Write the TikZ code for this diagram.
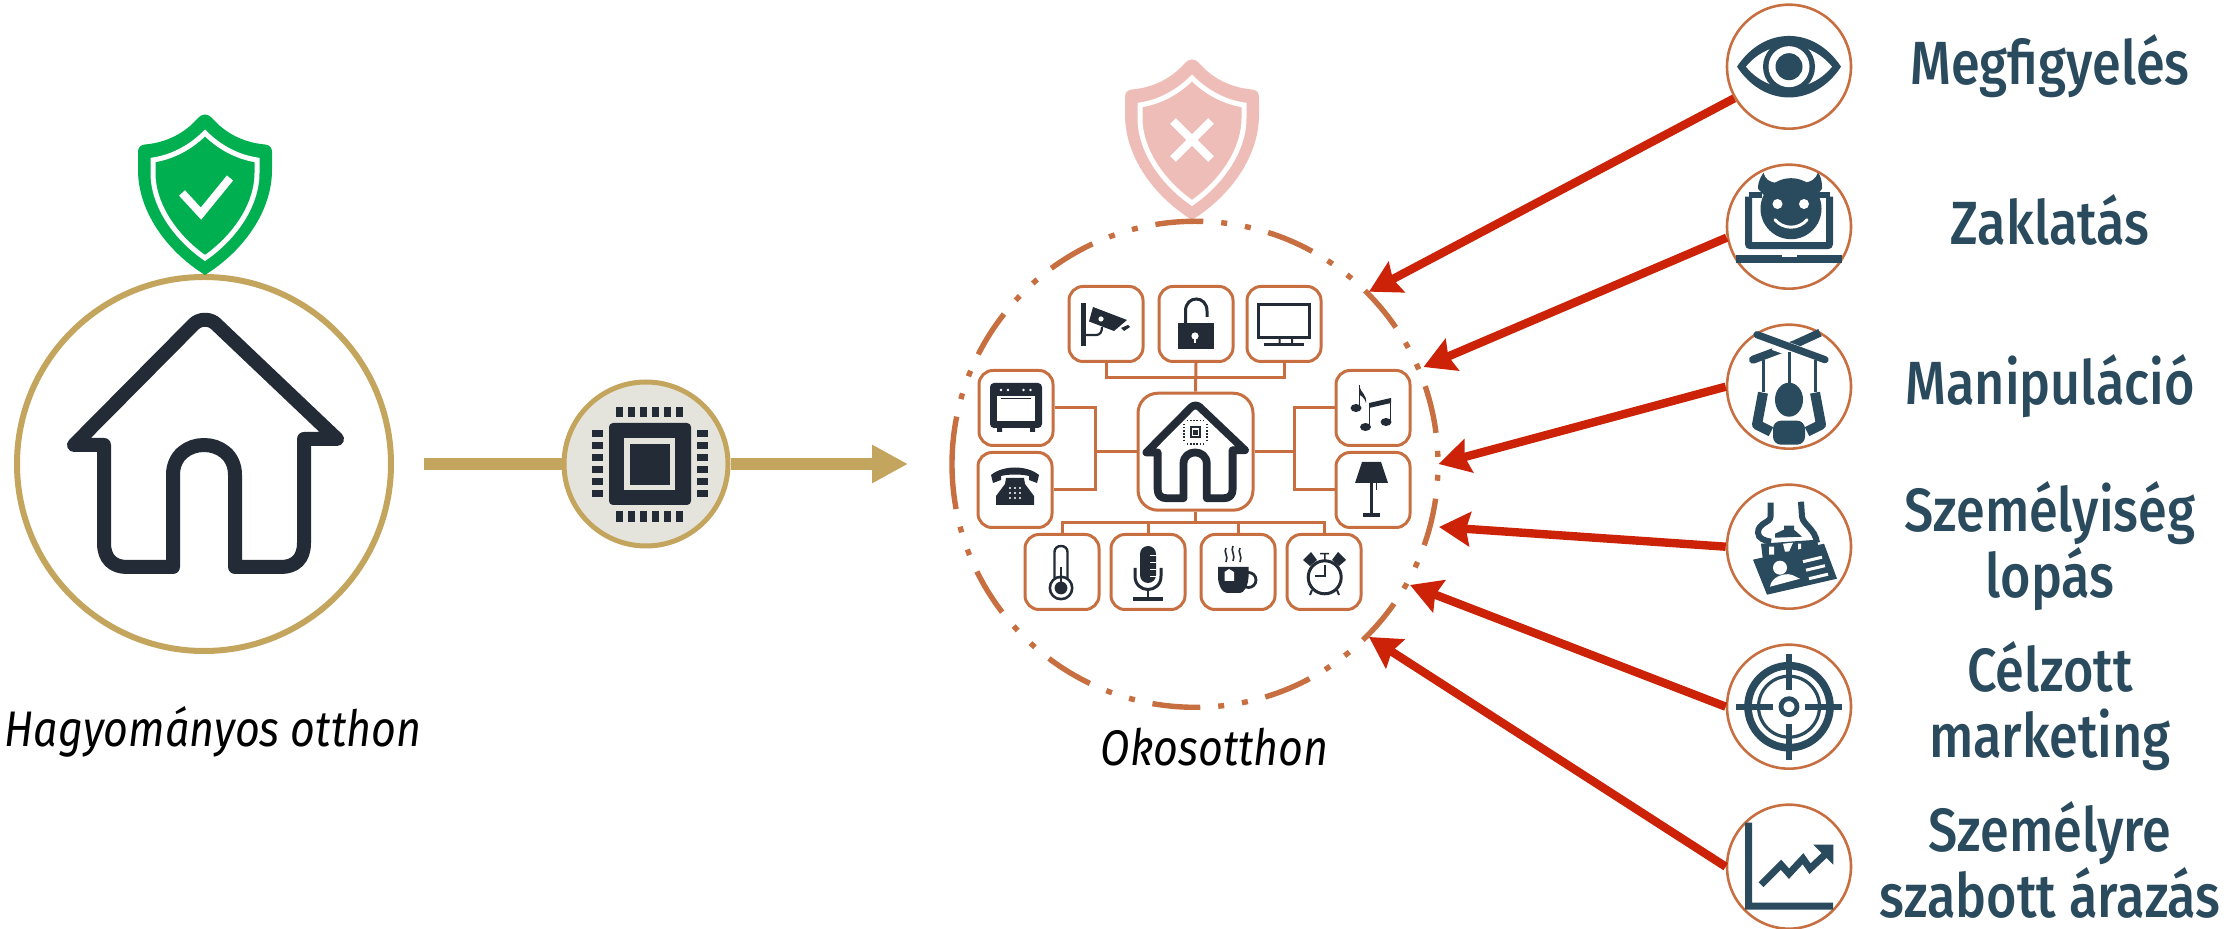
\documentclass[tikz,border=0pt]{standalone}
\usepackage{fontspec}
\usetikzlibrary{arrows.meta}
\setmainfont{Fira Sans}
\newfontfamily\labfont[FakeStretch=0.855]{Fira Sans Medium}
\newfontfamily\capfont[FakeStretch=0.86,ItalicFeatures={FakeStretch=0.86}]{Fira Sans}
\definecolor{gold}{HTML}{C4A55D}
\definecolor{rust}{HTML}{C86F41}
\definecolor{ink}{HTML}{232B37}
\definecolor{teal}{HTML}{2A4A5E}
\definecolor{alarm}{HTML}{CC2208}
\definecolor{okgreen}{HTML}{00B050}
\definecolor{paleRed}{HTML}{EFBDB8}
\definecolor{chipbg}{HTML}{E4E4DC}
\tikzset{
  tile/.style={draw=rust,fill=white,line width=1.5pt,rounded corners=7pt,minimum width=37pt,minimum height=37.5pt,inner sep=0pt},
  hometile/.style={tile,rounded corners=10pt,minimum width=57.5pt,minimum height=58.5pt},
  threat/.style={circle,draw=rust,fill=white,line width=1.3pt,minimum size=62pt,inner sep=0pt},
  conn/.style={draw=rust,line width=1.5pt},
  hit/.style={draw=alarm,line width=4.2pt,-{Stealth[length=15.5pt,width=17pt,inset=2pt]}},
  goldline/.style={draw=gold,line width=6pt},
  lab/.style={font=\labfont\fontsize{30.5}{33}\selectfont,text=teal,align=center,inner sep=0pt},
  capt/.style={font=\capfont\itshape\fontsize{25}{28}\selectfont,text=black,inner sep=0pt,anchor=base}
}
\newcommand{\shieldicon}[1]{%
  \fill[#1] (0,-80.5) .. controls (-3,-80.5) and (-5,-79) .. (-7,-77)
    .. controls (-20,-62) and (-38,-52.5) .. (-60,-50.5)
    .. controls (-65,-50) and (-67,-47) .. (-67,-43) -- (-67,-25)
    .. controls (-67,15) and (-40,55) .. (0,80)
    .. controls (40,55) and (67,15) .. (67,-25) -- (67,-43)
    .. controls (67,-47) and (65,-50) .. (60,-50.5)
    .. controls (38,-52.5) and (20,-62) .. (7,-77)
    .. controls (5,-79) and (3,-80.5) .. (0,-80.5) -- cycle;
  \draw[white,line width=2.5pt] (0,-62) .. controls (-14,-48) and (-32,-38) .. (-52,-35) -- (-52,-22)
    .. controls (-52,10) and (-30,42) .. (0,63)
    .. controls (30,42) and (52,10) .. (52,-22) -- (52,-35)
    .. controls (32,-38) and (14,-48) .. (0,-62) -- cycle;
}
\newcommand{\houseicon}[1]{%
  \draw[ink,line width=#1,line join=round,line cap=round]
    (-131,2) -- (-101,2) -- (-101,100) .. controls (-101,116) and (-92,124) .. (-78,124) -- (-32,124)
    -- (-32,32) .. controls (-32,-8) and (30,-8) .. (30,32) -- (30,124)
    -- (76,124) .. controls (90,124) and (99,116) .. (99,100) -- (99,-4) -- (132,-4)
    -- (12,-118) .. controls (6,-125) and (-6,-125) .. (-12,-118) -- cycle;
}
\begin{document}
\begin{tikzpicture}[x=0.5pt,y=-0.5pt]
\useasboundingbox (0,0) rectangle (2239,929);
% ---------- traditional home
\node[circle,draw=gold,line width=3pt,minimum size=187pt,inner sep=0pt] (trad) at (204,464) {};
\begin{scope}[shift={(205,195)}]\shieldicon{okgreen}
  \draw[white,line width=4pt] (-23,-2) -- (-4,18.6) -- (25,-17);
\end{scope}
\begin{scope}[shift={(205,443)}]\houseicon{7pt}\end{scope}
\node[capt] (tradcap) at (213,747) {Hagyományos otthon};
% ---------- chip and arrow
\node[circle,draw=gold,fill=chipbg,line width=2.5pt,minimum size=82pt,inner sep=0pt] (chip) at (646,464) {};
\coordinate (goldstart) at (424,464);
\coordinate (goldtip) at (908,464);
\draw[goldline] (goldstart) -- (chip.west);
\draw[goldline,-{Triangle[length=18pt,width=18pt]}] (chip.east) -- (goldtip);
\begin{scope}[shift={(chip.center)}]
  \fill[ink,rounded corners=2pt] (-37,-41) rectangle (45,41);
  \fill[chipbg] (-22,-26) rectangle (29,26);
  \fill[ink] (-16,-20) rectangle (24,21);
  \foreach \i in {0,1,2,3,4,5}{
    \fill[ink] (-30+\i*12,-57) rectangle ++(7,10);
    \fill[ink] (-30+\i*12,47) rectangle ++(7,11);
    \fill[ink] (-54,-34+\i*12) rectangle ++(11,7);
    \fill[ink] (51,-34+\i*12) rectangle ++(11,7);
  }
\end{scope}
% ---------- smart home
\begin{scope}[shift={(1192,140)}]\shieldicon{paleRed}
  \draw[white,line width=4pt] (-19,-19) -- (19,19) (19,-19) -- (-19,19);
\end{scope}
\draw[rust,line width=2.7pt,dash pattern=on 24pt off 9pt on 3pt off 9pt on 3pt off 9pt]
  (1195,464.3) ++(180:243) arc[start angle=180,end angle=540,radius=243];
\node[hometile] (home) at (1195.5,451.7) {};
\node[tile] (cam) at (1106,324) {};
\node[tile] (lock) at (1196,324) {};
\node[tile] (tv) at (1284,324) {};
\node[tile] (oven) at (1016,408) {};
\node[tile] (phone) at (1015,490) {};
\node[tile] (music) at (1373,408) {};
\node[tile] (lamp) at (1373,490) {};
\node[tile] (thermo) at (1062,572) {};
\node[tile] (mic) at (1148,572) {};
\node[tile] (cup) at (1238,572) {};
\node[tile] (clock) at (1324,572) {};
\coordinate (topbus) at (1196,377.3);
\coordinate (leftbus) at (1095,451.7);
\coordinate (rightbus) at (1294,451.7);
\coordinate (lowbus) at (1195.5,522.7);
\draw[conn] (cam.south) |- (topbus) -| (tv.south);
\draw[conn] (lock.south) -- (home.north);
\draw[conn] (oven.east) -| (leftbus) |- (phone.east);
\draw[conn] (leftbus) -- (home.west);
\draw[conn] (music.west) -| (rightbus) |- (lamp.west);
\draw[conn] (rightbus) -- (home.east);
\draw[conn] (home.south) -- (lowbus);
\draw[conn] (thermo.north) |- (lowbus) -| (clock.north);
\draw[conn] (mic.north) -- (mic.north |- lowbus);
\draw[conn] (cup.north) -- (cup.north |- lowbus);
% home tile icon
\begin{scope}[shift={(home.center)},scale=0.375]\houseicon{3.9pt}
  \begin{scope}[shift={(0,-52)}]
    \draw[ink,line width=1pt] (-13,-13) rectangle (13,13);
    \fill[ink] (-7,-7) rectangle (7,7);
    \draw[ink,line width=.9pt,dash pattern=on .8pt off .8pt] (-31,-23) -- (-31,23) (31,-23) -- (31,23) (-23,-31) -- (23,-31) (-23,31) -- (23,31);
  \end{scope}
\end{scope}
% camera
\begin{scope}[shift={(cam.center)}]
  \fill[ink] (-25,-21) rectangle (-20.5,22);
  \draw[ink,line width=1.1pt] (-22,11) -- (-10,11) .. controls (-6,11) and (-4,8) .. (-4,3);
  \fill[ink] (-13,-17) -- (21,-4) -- (8,7) -- (-17,-2.5) -- cycle;
  \fill[white] (-5,-5) circle (2.6);
  \fill[ink] (15,4) -- (22,1) -- (24,3) -- (18,7) -- cycle;
\end{scope}
% lock
\begin{scope}[shift={(lock.center)}]
  \draw[ink,line width=1.5pt] (-10.5,1) -- (-10.5,-13) .. controls (-10.5,-29) and (11,-29) .. (11,-13) -- (11,-7);
  \fill[ink] (-18,-1) -- (18,-1) -- (18,25) -- (-18,25) -- cycle;
  \fill[white] (-1,12) circle (3.6);
  \fill[white] (-2,12) rectangle (0,19);
\end{scope}
% tv
\begin{scope}[shift={(tv.center)}]
  \draw[ink,line width=1.7pt] (-25.5,-19.5) rectangle (25.5,13.5);
  \fill[ink] (-5.5,15) rectangle (-3.5,20) (7,15) rectangle (9,20);
  \fill[ink] (-20,19.5) rectangle (20,22);
\end{scope}
% oven
\begin{scope}[shift={(oven.center)}]
  \fill[ink,rounded corners=2pt] (-26,-25) rectangle (26,20);
  \fill[ink] (-19,20) rectangle (-14,24) (14,20) rectangle (19,24);
  \fill[white] (-19,-12) rectangle (19,13);
  \draw[ink,line width=.5pt] (-15,-9) -- (15,-9);
  \foreach \x in {-15,-8,7.5,14.5}{\fill[white] (\x,-18) circle (1.3);}
\end{scope}
% phone
\begin{scope}[shift={(phone.center)}]
  \fill[ink] (-24,-15) .. controls (-12,-25) and (12,-25) .. (24,-15) -- (22,-7) -- (14,-10) -- (14,-14) .. controls (6,-16) and (-6,-16) .. (-14,-14) -- (-14,-10) -- (-22,-7) -- cycle;
  \fill[ink] (-9,-12) -- (9,-12) -- (10,-6) -- (19,6) -- (19,15) -- (-19,15) -- (-19,6) -- (-10,-6) -- cycle;
  \foreach \x in {-5,0,5}{\foreach \y in {-2,3,8}{\fill[white] (\x,\y) circle (1.2);}}
\end{scope}
% music
\begin{scope}[shift={(music.center)}]
  \fill[ink] (-17,0) ellipse[x radius=5.5,y radius=4];
  \draw[ink,line width=.9pt] (-13.5,0) -- (-13.5,-23);
  \fill[ink] (-14,-23) .. controls (-12,-14) and (-6,-14) .. (-7,-5) .. controls (-9,-12) and (-13,-12) .. (-14,-14) -- cycle;
  \fill[ink] (-7.5,19) ellipse[x radius=5.5,y radius=4] (13,14) ellipse[x radius=5.5,y radius=4];
  \draw[ink,line width=.9pt] (-3.5,19) -- (-3.5,-2) (17.5,14) -- (17.5,-8);
  \fill[ink] (-4,-5) -- (18,-10) -- (18,-5) -- (-4,0) -- cycle;
\end{scope}
% lamp
\begin{scope}[shift={(lamp.center)}]
  \fill[ink] (-11,-28) -- (8,-28) -- (15,-7) -- (-18,-7) -- cycle;
  \fill[ink] (-3,-7) rectangle (0,25);
  \fill[ink] (-10,23) rectangle (7,27);
  \draw[ink,line width=.4pt] (3,-7) -- (3,0);
\end{scope}
% thermometer
\begin{scope}[shift={(thermo.center)}]
  \fill[ink] (-1,16) circle (12.5);
  \fill[white] (-1,16) circle (9.8);
  \fill[ink] (-1,16) circle (6.4);
  \draw[ink,line width=1.2pt] (-7.5,6) -- (-7.5,-20) .. controls (-7.5,-28) and (5.5,-28) .. (5.5,-20) -- (5.5,6);
  \fill[ink] (-2,-5) rectangle (0,14);
\end{scope}
% mic
\begin{scope}[shift={(mic.center)}]
  \fill[ink,rounded corners=4pt] (-8,-26) rectangle (8,11);
  \foreach \y in {-17,-10,-3,4}{\fill[white] (2,\y) rectangle (8.5,\y+1.2);}
  \draw[ink,line width=1.5pt] (-13,-4) -- (-13,4) .. controls (-13,22) and (13,22) .. (13,4) -- (13,-4);
  \fill[ink] (-1,17) rectangle (1,26);
  \fill[ink] (-15,25) rectangle (15,29);
\end{scope}
% cup
\begin{scope}[shift={(cup.center)}]
  \fill[ink] (-20,-5) -- (10.5,-5) -- (10.5,5) .. controls (10,14) and (6,21) .. (2,21) -- (-11,21) .. controls (-16,21) and (-20,12) .. (-20,5) -- cycle;
  \draw[ink,line width=1.4pt] (10.5,8) circle (7.5);
  \fill[white] (-13.5,0) -- (-9,-3) -- (-4,0) -- (-4,9) -- (-13.5,9) -- cycle;
  \draw[ink,line width=.8pt] (-12,-24) .. controls (-15,-20) and (-9,-16) .. (-12,-10) (-5,-26) .. controls (-8,-21) and (-2,-17) .. (-5,-11) (2,-24) .. controls (-1,-20) and (5,-16) .. (2,-10);
\end{scope}
% clock
\begin{scope}[shift={(clock.center)}]
  \draw[ink,line width=1.5pt] (0.7,5.3) circle (16.5);
  \draw[ink,line width=.9pt] (0.7,-7) -- (0.7,4) -- (-9,4);
  \fill[ink] (-21,-12) -- (-13,-20) -- (-7,-12) -- (-14,-6) -- cycle;
  \fill[ink] (22,-12) -- (14,-20) -- (8,-12) -- (15,-6) -- cycle;
  \fill[ink] (-4,-19) rectangle (5,-17.5) (0,-18) rectangle (1.5,-11);
  \draw[ink,line width=1pt] (-12,18) -- (-14,23) (13,18) -- (15,23);
\end{scope}
\node[capt] (smartcap) at (1214.5,766) {Okosotthon};
% ---------- threats
\node[threat] (eye) at (1789,66.7) {};
\node[threat] (laptop) at (1789,226.7) {};
\node[threat] (puppet) at (1789,386.7) {};
\node[threat] (idcard) at (1789,546.7) {};
\node[threat] (target) at (1789,706.7) {};
\node[threat] (chart) at (1789,866.7) {};
\coordinate (tipa) at (1369,291.7);
\coordinate (tipb) at (1423.5,367);
\coordinate (tipc) at (1438.6,464);
\coordinate (tipd) at (1439,527);
\coordinate (tipe) at (1410,585);
\coordinate (tipf) at (1369,637);
\draw[hit] (eye.210) -- (tipa);
\draw[hit] (laptop.190) -- (tipb);
\draw[hit] (puppet.west) -- (tipc);
\draw[hit] (idcard.west) -- (tipd);
\draw[hit] (target.west) -- (tipe);
\draw[hit] (chart.west) -- (tipf);
% eye
\begin{scope}[shift={(eye.center)}]
  \fill[teal] (-52,0) .. controls (-25,-41) and (25,-41) .. (52,0) .. controls (25,41) and (-25,41) .. (-52,0) -- cycle;
  \fill[white] (-43,0) .. controls (-20,-28) and (20,-28) .. (43,0) .. controls (20,28) and (-20,28) .. (-43,0) -- cycle;
  \fill[teal] (0,0) circle (26);
  \fill[white] (0,0) circle (20.5);
  \fill[teal] (0,0) circle (13.5);
\end{scope}
% laptop with devil
\begin{scope}[shift={(laptop.center)}]
  \draw[teal,line width=3.5pt,rounded corners=1pt] (-40.5,-30) -- (-40.5,19) -- (40.5,19) -- (40.5,-30);
  \draw[teal,line width=3pt] (-40.5,-32) -- (-27,-32) (27,-32) -- (40.5,-32);
  \fill[teal] (-53,28) rectangle (53,36);
  \fill[white] (-7,28) rectangle (8,30.5);
  \fill[teal] (2,-18) circle (30.5);
  \fill[teal] (-31,-38) .. controls (-31,-46) and (-28,-50) .. (-25.5,-54) .. controls (-24,-48) and (-20,-44) .. (-12,-44) -- (-20,-26) -- cycle;
  \fill[teal] (33,-38) .. controls (33,-46) and (32,-50) .. (29,-54) .. controls (27,-48) and (22,-44) .. (14,-44) -- (24,-26) -- cycle;
  \fill[white] (-11.5,-22.7) circle (5) (15,-22.7) circle (5);
  \draw[white,line width=1.5pt,line cap=round] (-14,-7) .. controls (-6,3) and (10,3) .. (18,-7);
\end{scope}
% puppet
\begin{scope}[shift={(puppet.center)}]
  \draw[teal,line width=4pt,line cap=round] (-36,-27) -- (10,-44);
  \draw[teal,line width=4pt] (7,-43) -- (31,-54);
  \draw[white,line width=6.5pt] (-15,-43) -- (10,-34);
  \draw[teal,line width=3.6pt,line cap=round] (-32,-52) -- (36,-27);
  \draw[teal,line width=1.5pt] (-26,-27) -- (-26,5) (0,-35) -- (0,0) (26,-27) -- (26,5);
  \fill[teal] (0,13) ellipse[x radius=14,y radius=17];
  \fill[teal,rounded corners=4pt] (-16,58) -- (-16,34) -- (16,34) -- (16,58) -- cycle;
  \draw[teal,line width=5pt,line join=round] (-26,6) -- (-32,38) -- (-18,45);
  \draw[teal,line width=5pt,line join=round] (26,6) -- (32,38) -- (18,45);
\end{scope}
% id theft
\begin{scope}[shift={(idcard.center)}]
  \draw[teal,line width=3pt] (-18.5,-44) -- (-18.5,-30) .. controls (-18.5,-24) and (-31,-24) .. (-31,-14) .. controls (-31,-8) and (-24,-6) .. (-18,-5);
  \draw[teal,line width=3pt] (12,-45) -- (13,-30) .. controls (14,-22) and (26,-18) .. (28,-4);
  \fill[teal] (-14,-13) -- (-5,-17) -- (-5,-21) -- (5,-21) -- (5,-17) -- (13,-10) -- (-14,-9) -- cycle;
  \fill[teal] (-28,-3) -- (28,-7) -- (30,4) -- (-26,14) -- cycle;
  \fill[white] (-20,0) rectangle (-15,8) (-6,-3) -- (4,-4) -- (0,5) -- (-4,5) -- cycle (9,-3) rectangle (12,4);
  \fill[teal] (-36,13) -- (35,-3) -- (48,32) -- (-22,48) -- cycle;
  \fill[white] (-9,21) circle (7);
  \fill[white] (-19,40) .. controls (-18,30) and (-4,26) .. (2,28) .. controls (6,29) and (10,32) .. (11,32) -- cycle;
  \draw[white,line width=1.5pt] (14,15) -- (33,10.5) (17,23.5) -- (36,19) (20,32) -- (39,27.5);
\end{scope}
% target
\begin{scope}[shift={(target.center)}]
  \draw[teal,line width=3.8pt] (0,0) circle (41);
  \draw[teal,line width=1.6pt] (0,0) circle (30.5);
  \draw[teal,line width=2.4pt] (0,0) circle (8);
  \draw[teal,line width=3pt] (0,-53) -- (0,-17) (0,17) -- (0,53) (-53,0) -- (-16,0) (16,0) -- (53,0);
\end{scope}
% chart
\begin{scope}[shift={(chart.center)}]
  \fill[teal] (-44,-44) -- (-37,-44) -- (-37,36) -- (44,36) -- (44,43) -- (-44,43) -- cycle;
  \draw[teal,line width=3.5pt] (-28,18) -- (-8,-2) -- (0,7) -- (14,-8) -- (21,2) -- (37,-13);
  \fill[teal] (24.4,-22) -- (44.3,-22) -- (44.3,-2) -- cycle;
\end{scope}
% labels
\node[lab,anchor=base] (t1) at (2050,85) {Megfigyelés};
\node[lab,anchor=base] (t2) at (2050,245) {Zaklatás};
\node[lab,anchor=base] (t3) at (2050,405) {Manipuláció};
\node[lab,anchor=base] (t4) at (2050,598) {Személyiség\\lopás};
\node[lab,anchor=base] (t5) at (2050,758) {Célzott\\marketing};
\node[lab,anchor=base] (t6) at (2050,918) {Személyre\\szabott árazás};
\end{tikzpicture}
\end{document}
